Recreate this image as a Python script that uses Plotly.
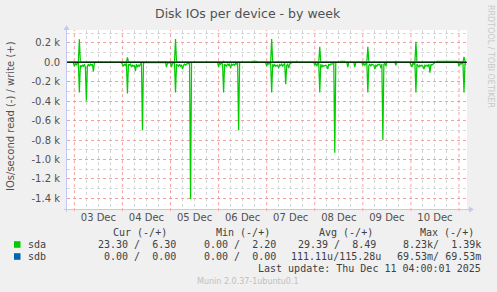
import plotly.graph_objects as go

# ---------------- data ----------------
read_times = [
    "2025-12-02 20:30", "2025-12-02 23:30",
    "2025-12-03 00:00", "2025-12-03 00:30", "2025-12-03 01:00", "2025-12-03 01:30", "2025-12-03 02:00",
    "2025-12-03 02:30", "2025-12-03 03:00", "2025-12-03 03:30", "2025-12-03 04:00", "2025-12-03 04:30",
    "2025-12-03 05:00", "2025-12-03 05:30", "2025-12-03 06:00", "2025-12-03 06:30", "2025-12-03 07:00",
    "2025-12-03 07:30", "2025-12-03 08:00", "2025-12-03 08:30", "2025-12-03 09:00", "2025-12-03 09:30",
    "2025-12-03 10:00", "2025-12-03 10:30", "2025-12-03 23:30",
    "2025-12-04 00:00", "2025-12-04 00:30", "2025-12-04 01:00", "2025-12-04 01:30", "2025-12-04 02:00",
    "2025-12-04 02:30", "2025-12-04 03:00", "2025-12-04 03:30", "2025-12-04 04:00", "2025-12-04 04:30",
    "2025-12-04 05:00", "2025-12-04 05:30", "2025-12-04 06:00", "2025-12-04 06:30", "2025-12-04 07:00",
    "2025-12-04 07:30", "2025-12-04 08:00", "2025-12-04 08:30", "2025-12-04 09:00", "2025-12-04 09:30",
    "2025-12-04 10:00", "2025-12-04 10:30", "2025-12-04 21:30", "2025-12-04 22:00", "2025-12-04 22:30",
    "2025-12-05 00:00", "2025-12-05 00:30", "2025-12-05 01:00", "2025-12-05 02:00", "2025-12-05 02:30",
    "2025-12-05 03:00", "2025-12-05 03:30", "2025-12-05 04:00", "2025-12-05 04:30", "2025-12-05 05:00",
    "2025-12-05 05:30", "2025-12-05 06:00", "2025-12-05 06:30", "2025-12-05 07:00", "2025-12-05 07:30",
    "2025-12-05 08:00", "2025-12-05 08:30", "2025-12-05 09:00", "2025-12-05 09:30", "2025-12-05 10:00",
    "2025-12-05 10:30", "2025-12-05 23:30",
    "2025-12-06 00:00", "2025-12-06 00:30", "2025-12-06 01:00", "2025-12-06 01:30", "2025-12-06 02:00",
    "2025-12-06 02:30", "2025-12-06 03:00", "2025-12-06 03:30", "2025-12-06 04:00", "2025-12-06 04:30",
    "2025-12-06 05:00", "2025-12-06 05:30", "2025-12-06 06:00", "2025-12-06 06:30", "2025-12-06 07:00",
    "2025-12-06 07:30", "2025-12-06 08:00", "2025-12-06 08:30", "2025-12-06 09:00", "2025-12-06 09:30",
    "2025-12-06 10:00", "2025-12-06 10:30", "2025-12-06 23:30",
    "2025-12-07 00:00", "2025-12-07 00:30", "2025-12-07 01:00", "2025-12-07 01:30", "2025-12-07 02:00",
    "2025-12-07 02:30", "2025-12-07 03:00", "2025-12-07 03:30", "2025-12-07 04:00", "2025-12-07 04:30",
    "2025-12-07 05:00", "2025-12-07 05:30", "2025-12-07 06:00", "2025-12-07 06:30", "2025-12-07 07:00",
    "2025-12-07 07:30", "2025-12-07 08:00", "2025-12-07 08:30", "2025-12-07 09:00", "2025-12-07 09:30",
    "2025-12-07 10:00", "2025-12-07 10:30", "2025-12-07 11:00", "2025-12-07 11:30", "2025-12-07 12:00",
    "2025-12-07 12:30", "2025-12-07 23:30",
    "2025-12-08 00:00", "2025-12-08 00:30", "2025-12-08 01:00", "2025-12-08 01:30", "2025-12-08 02:00",
    "2025-12-08 02:30", "2025-12-08 03:00", "2025-12-08 03:30", "2025-12-08 04:00", "2025-12-08 04:30",
    "2025-12-08 05:00", "2025-12-08 05:30", "2025-12-08 06:00", "2025-12-08 06:30", "2025-12-08 07:00",
    "2025-12-08 07:30", "2025-12-08 08:00", "2025-12-08 08:30", "2025-12-08 09:00", "2025-12-08 09:30",
    "2025-12-08 10:00", "2025-12-08 10:30", "2025-12-08 16:00", "2025-12-08 16:30", "2025-12-08 17:00",
    "2025-12-08 19:30", "2025-12-08 20:00", "2025-12-08 20:30", "2025-12-08 23:30",
    "2025-12-09 00:00", "2025-12-09 00:30", "2025-12-09 01:00", "2025-12-09 01:30", "2025-12-09 02:00",
    "2025-12-09 02:30", "2025-12-09 03:00", "2025-12-09 03:30", "2025-12-09 04:00", "2025-12-09 04:30",
    "2025-12-09 05:00", "2025-12-09 05:30", "2025-12-09 06:00", "2025-12-09 06:30", "2025-12-09 07:00",
    "2025-12-09 07:30", "2025-12-09 08:00", "2025-12-09 08:30", "2025-12-09 09:00", "2025-12-09 09:30",
    "2025-12-09 10:00", "2025-12-09 10:30", "2025-12-09 11:00", "2025-12-09 11:30", "2025-12-09 12:00",
    "2025-12-09 16:00", "2025-12-09 16:30", "2025-12-09 17:00", "2025-12-09 23:30",
    "2025-12-10 00:00", "2025-12-10 00:30", "2025-12-10 01:00", "2025-12-10 01:30", "2025-12-10 02:00",
    "2025-12-10 02:30", "2025-12-10 03:00", "2025-12-10 03:30", "2025-12-10 04:00", "2025-12-10 04:30",
    "2025-12-10 05:00", "2025-12-10 05:30", "2025-12-10 06:00", "2025-12-10 06:30", "2025-12-10 07:00",
    "2025-12-10 07:30", "2025-12-10 08:00", "2025-12-10 08:30", "2025-12-10 09:00", "2025-12-10 09:30",
    "2025-12-10 10:00", "2025-12-10 10:30", "2025-12-10 11:00", "2025-12-10 11:30", "2025-12-10 12:00",
    "2025-12-10 23:30",
    "2025-12-11 00:00", "2025-12-11 00:30", "2025-12-11 01:00", "2025-12-11 01:30", "2025-12-11 02:00",
    "2025-12-11 02:30", "2025-12-11 03:00", "2025-12-11 03:30",
]
read_values = [
    -2, -2,
    -40, -10, -30, -10, -10, -310, -30, -50, -30, -40, -20, -50, -395, -40, -20, -40, -20, -30, -20, -93,
    -10, -2, -2,
    -20, -40, -20, -30, -10, -320, -20, -30, -20, -50, -30, -40, -30, -90, -20, -50, -30, -40, -20, -10,
    -700, -5, -2, -50, -5,
    -5, -50, -5, -10, -310, -20, -30, -40, -20, -40, -30, -70, -30, -20, -30, -20, -10, -15, -10, -1410,
    -2, -2,
    -50, -5, -20, -10, -20, -310, -20, -30, -40, -15, -30, -20, -60, -20, -30, -20, -30, -10, -20, -10,
    -700, -2, -2,
    -40, -5, -20, -10, -10, -310, -20, -40, -25, -40, -30, -30, -60, -25, -35, -20, -40, -30, -10, -227,
    -30, -20, -60, -20, -10, -2, -2,
    -30, -10, -40, -15, -10, -310, -20, -50, -30, -40, -30, -30, -40, -70, -20, -30, -20, -20, -15, -15,
    -930, -2, -2, -50, -2, -2, -50, -2, -2,
    -30, -10, -30, -15, -10, -310, -30, -20, -40, -20, -30, -30, -70, -30, -40, -20, -25, -20, -60, -20,
    -800, -20, -10, -40, -2, -2, -30, -2, -2,
    -30, -50, -10, -20, -10, -310, -20, -30, -50, -30, -40, -30, -40, -70, -30, -40, -30, -40, -20, -107,
    -20, -30, -20, -10, -2, -2,
    -40, -10, -20, -10, -15, -310, -10, -23.3,
]

write_times = [
    "2025-12-02 20:30",
    "2025-12-03 02:00", "2025-12-03 02:30", "2025-12-03 03:00", "2025-12-03 03:30",
    "2025-12-04 02:00", "2025-12-04 02:30", "2025-12-04 03:00", "2025-12-04 03:30",
    "2025-12-05 02:00", "2025-12-05 02:30", "2025-12-05 03:00", "2025-12-05 03:30",
    "2025-12-06 02:00", "2025-12-06 02:30", "2025-12-06 03:00",
    "2025-12-06 16:30", "2025-12-06 17:00", "2025-12-06 19:00", "2025-12-06 19:30",
    "2025-12-07 02:00", "2025-12-07 02:30", "2025-12-07 03:00", "2025-12-07 03:30",
    "2025-12-07 14:30", "2025-12-07 15:00", "2025-12-07 15:30",
    "2025-12-08 02:00", "2025-12-08 02:30", "2025-12-08 03:00", "2025-12-08 03:30",
    "2025-12-08 12:30", "2025-12-08 13:00", "2025-12-08 15:00", "2025-12-08 15:30",
    "2025-12-09 02:00", "2025-12-09 02:30", "2025-12-09 03:00", "2025-12-09 03:30",
    "2025-12-09 16:00", "2025-12-09 16:30", "2025-12-09 17:00",
    "2025-12-10 02:00", "2025-12-10 02:30", "2025-12-10 03:00", "2025-12-10 03:30",
    "2025-12-10 12:30", "2025-12-10 13:00", "2025-12-10 23:00", "2025-12-10 23:30",
    "2025-12-11 02:00", "2025-12-11 02:30", "2025-12-11 03:00", "2025-12-11 03:30",
]
write_values = [
    2,
    2, 236, 5, 2,
    2, 50, 5, 2,
    2, 240, 5, 2,
    2, 10, 2,
    2, 10, 10, 2,
    2, 240, 5, 2,
    2, 10, 2,
    2, 160, 5, 2,
    2, 10, 10, 2,
    2, 160, 5, 2,
    2, 10, 2,
    2, 210, 5, 2,
    2, 10, 10, 2,
    2, 55, 10, 6.3,
]

sdb_times = ["2025-12-02 20:30", "2025-12-11 03:30"]
sdb_read = [0, 0]
sdb_write = [0, 0]

day_lines = ["2025-12-03", "2025-12-04", "2025-12-05", "2025-12-06", "2025-12-07",
             "2025-12-08", "2025-12-09", "2025-12-10", "2025-12-11"]
x_range = ["2025-12-02 20:20", "2025-12-11 04:00"]
y_range = [-1510, 332]
y_tickvals = [200, 0, -200, -400, -600, -800, -1000, -1200, -1400]
y_ticktext = ["0.2 k", "0.0", "-0.2 k", "-0.4 k", "-0.6 k", "-0.8 k", "-1.0 k", "-1.2 k", "-1.4 k"]

title = "Disk IOs per device - by week"
y_title = "IOs/second read (-) / write (+)"
legend_names = ["sda", "sdb"]
legend_colors = ["#00cc00", "#0066b3"]
headers = ["Cur (-/+)", "Min (-/+)", "Avg (-/+)", "Max (-/+)"]
sda_stats = ["23.30 /  6.30", "0.00 /  2.20", "29.39 /  8.49", "8.23k/  1.39k"]
sdb_stats = ["0.00 /  0.00", "0.00 /  0.00", "111.11u/115.28u", "69.53m/ 69.53m"]
last_update = "Last update: Thu Dec 11 04:00:01 2025"
munin_ver = "Munin 2.0.37-1ubuntu0.1"
rrd_text = "RRDTOOL / TOBI OETIKER"

# ---------------- layout helpers ----------------
W, H = 497, 292
L, R, T, B = 67, 30, 30, 83
PW, PH = W - L - R, H - T - B


def px(x):
    return (x - L) / PW


def py(y):
    return (H - B - y) / PH


def nb(s):
    return s.replace(" ", "\u00a0")


fig = go.Figure()
fig.add_trace(go.Scatter(x=sdb_times, y=sdb_read, mode="lines",
                         line=dict(color=legend_colors[1], width=1), showlegend=False))
fig.add_trace(go.Scatter(x=sdb_times, y=sdb_write, mode="lines",
                         line=dict(color=legend_colors[1], width=1), showlegend=False))
fig.add_trace(go.Scatter(x=read_times, y=read_values, mode="lines",
                         line=dict(color=legend_colors[0], width=1.25), showlegend=False))
fig.add_trace(go.Scatter(x=write_times, y=write_values, mode="lines",
                         line=dict(color=legend_colors[0], width=1.25), showlegend=False))

shapes = []
for d in day_lines:
    shapes.append(dict(type="line", xref="x", yref="paper", x0=d, x1=d, y0=-0.012, y1=1,
                       line=dict(color="#f3a0a0", width=1, dash="dot"), layer="below"))
# zero line
shapes.append(dict(type="line", xref="paper", yref="y", x0=0, x1=1, y0=0, y1=0,
                   line=dict(color="#000000", width=1), layer="above"))
# axis lines with arrows
ax_col = "#c4c8f0"
shapes.append(dict(type="line", xref="paper", yref="paper", x0=px(66.5), x1=px(66.5),
                   y0=py(212), y1=py(29), line=dict(color=ax_col, width=1)))
shapes.append(dict(type="line", xref="paper", yref="paper", x0=px(64), x1=px(470),
                   y0=py(209.5), y1=py(209.5), line=dict(color=ax_col, width=1)))
shapes.append(dict(type="path", xref="paper", yref="paper",
                   path=f"M {px(63.5)} {py(30)} L {px(69.5)} {py(30)} L {px(66.5)} {py(25)} Z",
                   fillcolor=ax_col, line=dict(width=0)))
shapes.append(dict(type="path", xref="paper", yref="paper",
                   path=f"M {px(469)} {py(206.5)} L {px(469)} {py(212.5)} L {px(474)} {py(209.5)} Z",
                   fillcolor=ax_col, line=dict(width=0)))
# legend squares
for i, c in enumerate(legend_colors):
    yc = 244.5 + 12 * i
    shapes.append(dict(type="rect", xref="paper", yref="paper", x0=px(14), x1=px(20.5),
                       y0=py(yc + 3.3), y1=py(yc - 3.3), fillcolor=c, line=dict(width=0)))

ann = []
txt_col = "#404040"
mono = "DejaVu Sans Mono"


def add(text, x, y, xanchor="left", size=10, color=txt_col, family=mono, angle=0):
    ann.append(dict(text=nb(text), x=px(x), y=py(y), xref="paper", yref="paper",
                    xanchor=xanchor, yanchor="middle", showarrow=False, textangle=angle,
                    font=dict(size=size, color=color, family=family)))


add(title, 248, 13, "center", 12.5, "#505050", "DejaVu Sans")
ann.append(dict(text=y_title, x=px(10), y=py(116), xref="paper", yref="paper",
                xanchor="center", yanchor="middle", showarrow=False, textangle=-90,
                font=dict(size=10, color="#505050", family="DejaVu Sans")))
ann.append(dict(text=rrd_text, x=px(490), y=py(56), xref="paper", yref="paper",
                xanchor="center", yanchor="middle", showarrow=False, textangle=90,
                font=dict(size=8, color="#c8c8c8", family="DejaVu Sans")))

header_right = [169, 272, 375, 476]
sda_right = [178, 278, 378, 483]
sdb_right = [178, 278, 383, 483]
for h, xr in zip(headers, header_right):
    add(h, xr, 232.7, "right")
add(legend_names[0], 26, 244.7)
add(legend_names[1], 26, 256.7)
for s, xr in zip(sda_stats, sda_right):
    add(s, xr, 244.7, "right")
for s, xr in zip(sdb_stats, sdb_right):
    add(s, xr, 256.7, "right")
add(last_update, 483, 268.7, "right")
add(munin_ver, 248, 281, "center", 8, "#c0c0c0", "DejaVu Sans")

fig.update_layout(
    width=W, height=H, autosize=False,
    margin=dict(l=L, r=R, t=T, b=B, pad=0),
    paper_bgcolor="#f0f0f0", plot_bgcolor="#ffffff",
    font=dict(family="DejaVu Sans", size=10, color="#505050"),
    showlegend=False,
    shapes=shapes, annotations=ann,
    xaxis=dict(
        type="date", range=x_range, showline=False, zeroline=False,
        tick0="2025-12-03", dtick=86400000, ticklabelmode="period", tickformat="%d %b",
        showgrid=False, ticks="", tickfont=dict(size=10, color="#505050"),
        ticklabelstandoff=1,
        minor=dict(tick0="2025-12-03", dtick=6 * 3600000, showgrid=True,
                   gridcolor="#d6d6d6", griddash="dot", gridwidth=1, ticks=""),
    ),
    yaxis=dict(
        range=y_range, tickvals=y_tickvals, ticktext=y_ticktext, showline=False,
        zeroline=False, showgrid=True, gridcolor="#f3a0a0", griddash="dot", gridwidth=1,
        ticks="", ticklabelstandoff=6, tickfont=dict(size=10, color="#505050"),
        minor=dict(dtick=100, tick0=0, showgrid=True, gridcolor="#d6d6d6",
                   griddash="dot", gridwidth=1, ticks=""),
    ),
)

fig.write_html("out.html")
